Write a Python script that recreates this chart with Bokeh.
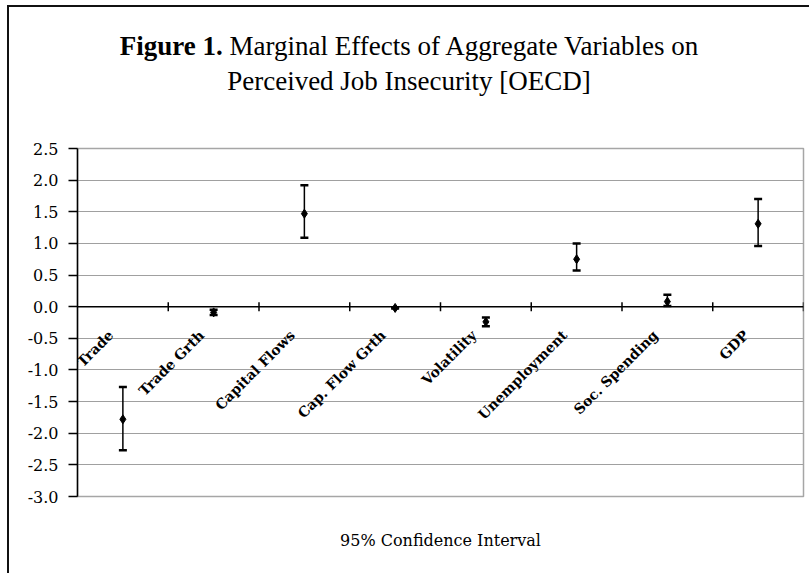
import numpy as np
from bokeh.plotting import figure
from bokeh.layouts import column
from bokeh.models import (ColumnDataSource, Whisker, TeeHead, Span, Div, LabelSet,
                          FixedTicker, NumeralTickFormatter, LinearAxis, Range1d)
from bokeh.core.properties import value
from bokeh.embed import file_html
from bokeh.resources import INLINE

# ---- data ----
categories = ["Trade", "Trade Grth", "Capital Flows", "Cap. Flow Grth",
              "Volatility", "Unemployment", "Soc. Spending", "GDP"]
effect = [-1.78, -0.09, 1.47, -0.02, -0.24, 0.75, 0.08, 1.31]
ci_low = [-2.27, -0.13, 1.09, -0.03, -0.31, 0.57, 0.01, 0.96]
ci_high = [-1.27, -0.05, 1.92, -0.01, -0.17, 1.00, 0.19, 1.70]
y_ticks = [-3.0, -2.5, -2.0, -1.5, -1.0, -0.5, 0.0, 0.5, 1.0, 1.5, 2.0, 2.5]
title_bold = "Figure 1."
title_line1 = "Marginal Effects of Aggregate Variables on"
title_line2 = "Perceived Job Insecurity [OECD]"
x_title = "95% Confidence Interval"

n = len(categories)
xc = np.arange(n) + 0.5
src = ColumnDataSource(dict(x=xc, zero=np.zeros(n), cat=categories,
                            eff=effect, lo=ci_low, hi=ci_high))

SERIF = "DejaVu Serif"
TITLE_FONT = "Liberation Serif"

title_div = Div(
    text=f"<b>{title_bold}</b> {title_line1}<br>{title_line2}",
    width=800, height=131,
    styles={"font-family": TITLE_FONT, "font-size": "27px", "line-height": "35px",
            "text-align": "center", "color": "black", "padding-top": "22px",
            "box-sizing": "border-box", "margin": "0px"})

p = figure(width=800, height=435, output_backend="svg", toolbar_location=None,
           x_range=Range1d(0, n), y_range=Range1d(min(y_ticks), max(y_ticks)),
           x_axis_type=None, min_border_left=68, min_border_right=6,
           min_border_top=10, min_border_bottom=77)
p.styles = {"margin": "0px"}
p.background_fill_color = "white"
p.border_fill_color = "white"
p.outline_line_color = "#a6a6a6"
p.outline_line_width = 1.5

# y axis
p.yaxis.ticker = FixedTicker(ticks=y_ticks)
p.yaxis.formatter = NumeralTickFormatter(format="0.0")
p.yaxis.axis_line_color = "black"
p.yaxis.axis_line_width = 1.5
p.yaxis.major_tick_line_color = "black"
p.yaxis.major_tick_line_width = 1.5
p.yaxis.major_tick_out = 9
p.yaxis.major_tick_in = 0
p.yaxis.minor_tick_line_color = None
p.yaxis.major_label_standoff = 10
p.yaxis.major_label_text_font = SERIF
p.yaxis.major_label_text_font_size = "16px"
p.yaxis.major_label_text_color = "black"
p.ygrid.ticker = FixedTicker(ticks=y_ticks)
p.ygrid.grid_line_color = "#a0a0a0"
p.ygrid.grid_line_width = 1
p.xgrid.grid_line_color = None

# x axis (title only)
xa = LinearAxis(ticker=FixedTicker(ticks=[]), axis_line_color=None,
                major_tick_line_color=None, minor_tick_line_color=None,
                axis_label=x_title,
                axis_label_text_font=SERIF, axis_label_text_font_size="16px",
                axis_label_text_font_style="normal", axis_label_text_color="black",
                axis_label_standoff=34)
p.add_layout(xa, "below")

# zero line and category boundary ticks
p.add_layout(Span(location=0, dimension="width", line_color="black", line_width=1.5))
p.scatter(x=np.arange(1, n + 1), y=np.zeros(n), marker="dash", angle=np.pi / 2,
          size=9, line_color="black", line_width=1.5)

# error bars
p.add_layout(Whisker(base="x", upper="hi", lower="lo", source=src, dimension="height",
                     line_color="black", line_width=1.5,
                     upper_head=TeeHead(size=8, line_width=2.5, line_color="black"),
                     lower_head=TeeHead(size=8, line_width=2.5, line_color="black")))
p.scatter(x="x", y="eff", source=src, marker="diamond", size=9,
          fill_color="black", line_color="black")

# rotated category labels
p.add_layout(LabelSet(x="x", y="zero", text="cat", source=src, angle=np.pi / 4,
                      text_align="right", text_baseline="middle",
                      x_offset=-12, y_offset=-26,
                      text_font=value(SERIF), text_font_style="bold",
                      text_font_size="14px", text_color="black"))

layout = column(title_div, p, spacing=0,
                styles={"border-top": "2px solid #111", "border-left": "2px solid #111",
                        "margin-left": "7px", "margin-top": "5px",
                        "background-color": "white"})

open("out.html", "w").write(file_html(layout, INLINE))
